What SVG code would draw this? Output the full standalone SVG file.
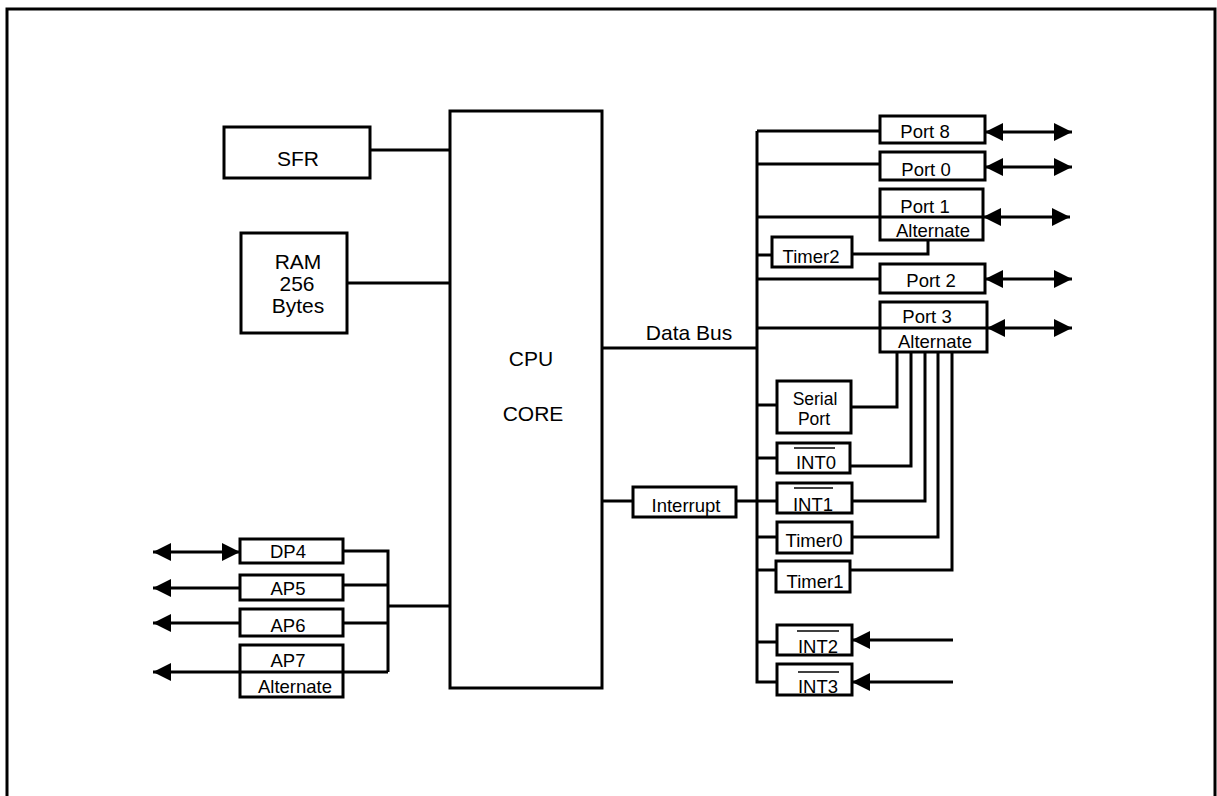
<svg xmlns="http://www.w3.org/2000/svg" width="1217" height="796" viewBox="0 0 1217 796">
<style>
.box{fill:#fff;stroke:#000;stroke-width:3}
.ln{fill:none;stroke:#000;stroke-width:3}
.ov{stroke:#000;stroke-width:1.5}
text{font-family:"Liberation Sans",Arial,Helvetica,sans-serif;fill:#000;text-anchor:middle}
.b{font-size:21px}
.s{font-size:18.5px}
.t{font-size:17.5px}
</style>
<defs>
<marker id="ah" markerUnits="userSpaceOnUse" markerWidth="18" markerHeight="18" refX="18" refY="9" orient="auto-start-reverse" viewBox="0 0 18 18">
<path d="M0,0 L18,9 L0,18 Z" fill="#000"/>
</marker>
</defs>
<rect width="1217" height="796" fill="#fff"/>
<path d="M7,796 V9 H1215 V796" fill="none" stroke="#000" stroke-width="3"/>

<g id="connectors">
<path class="ln" d="M370,150 H450"/>
<path class="ln" d="M347,283 H450"/>
<path class="ln" d="M602,348 H757"/>
<path class="ln" d="M757,131 V682 H777"/>
<path class="ln" d="M757,131 H880"/>
<path class="ln" d="M757,164 H880"/>
<path class="ln" d="M757,217 H983"/>
<path class="ln" d="M757,255 H772"/>
<path class="ln" d="M757,279 H880"/>
<path class="ln" d="M757,328 H987"/>
<path class="ln" d="M757,405 H777"/>
<path class="ln" d="M757,458 H777"/>
<path class="ln" d="M757,537 H777"/>
<path class="ln" d="M757,570 H776"/>
<path class="ln" d="M757,642 H777"/>
<path class="ln" d="M602,501 H633"/>
<path class="ln" d="M736,501 H777"/>
<path class="ln" d="M852,254 H928 V240"/>
<path class="ln" d="M851,407 H897 V352"/>
<path class="ln" d="M850,466 H911 V352"/>
<path class="ln" d="M852,501 H925 V352"/>
<path class="ln" d="M852,537 H938 V352"/>
<path class="ln" d="M850,570 H952 V352" stroke-width="2"/>
<line class="ln" x1="985" y1="132" x2="1072" y2="132" marker-start="url(#ah)" marker-end="url(#ah)"/>
<line class="ln" x1="985" y1="167" x2="1072" y2="167" marker-start="url(#ah)" marker-end="url(#ah)"/>
<line class="ln" x1="983" y1="217" x2="1070" y2="217" marker-start="url(#ah)" marker-end="url(#ah)"/>
<line class="ln" x1="985" y1="279" x2="1072" y2="279" marker-start="url(#ah)" marker-end="url(#ah)"/>
<line class="ln" x1="987" y1="328" x2="1072" y2="328" marker-start="url(#ah)" marker-end="url(#ah)"/>
<line class="ln" x1="953" y1="640" x2="852" y2="640" marker-end="url(#ah)"/>
<line class="ln" x1="953" y1="682" x2="852" y2="682" marker-end="url(#ah)"/>
<path class="ln" d="M343,551 H388 V672"/>
<path class="ln" d="M343,585 H388"/>
<path class="ln" d="M343,623 H388"/>
<path class="ln" d="M388,606 H450"/>
<line class="ln" x1="153" y1="552" x2="240" y2="552" marker-start="url(#ah)" marker-end="url(#ah)"/>
<line class="ln" x1="240" y1="588" x2="153" y2="588" marker-end="url(#ah)"/>
<line class="ln" x1="240" y1="623" x2="153" y2="623" marker-end="url(#ah)"/>
<line class="ln" x1="388" y1="672" x2="153" y2="672" marker-end="url(#ah)"/>
</g>

<g id="cpu"><rect class="box" x="450" y="111" width="152" height="577"/>
<text class="b" x="531" y="366">CPU</text><text class="b" x="533" y="421">CORE</text></g>
<g id="sfr"><rect class="box" x="224" y="127" width="146" height="51"/><text class="b" x="298" y="166">SFR</text></g>
<g id="ram"><rect class="box" x="241" y="233" width="106" height="100"/>
<text class="b" x="298" y="269">RAM</text><text class="b" x="297" y="291">256</text><text class="b" x="298" y="313">Bytes</text></g>
<g id="databus-label"><text class="b" x="689" y="340">Data Bus</text></g>
<g id="interrupt"><rect class="box" x="633" y="487" width="103" height="30"/><text class="s" x="686" y="512">Interrupt</text></g>

<g id="port8"><rect class="box" x="880" y="116" width="105" height="27"/><text class="s" x="925" y="138">Port 8</text></g>
<g id="port0"><rect class="box" x="880" y="152" width="105" height="28"/><text class="s" x="926" y="176">Port 0</text></g>
<g id="port1"><rect x="880" y="189" width="103" height="51" fill="none" stroke="#000" stroke-width="3"/>
<text class="s" x="925" y="213">Port 1</text><text class="s" x="933" y="237">Alternate</text></g>
<g id="timer2"><rect class="box" x="772" y="237" width="80" height="30"/><text class="s" x="811" y="263">Timer2</text></g>
<g id="port2"><rect class="box" x="880" y="264" width="105" height="29"/><text class="s" x="931" y="287">Port 2</text></g>
<g id="port3"><rect x="880" y="302" width="107" height="50" fill="none" stroke="#000" stroke-width="3"/>
<text class="s" x="927" y="323">Port 3</text><text class="s" x="935" y="348">Alternate</text></g>
<g id="serial"><rect class="box" x="777" y="381" width="74" height="52"/>
<text class="t" x="815" y="405">Serial</text><text class="t" x="814" y="425">Port</text></g>
<g id="int0"><rect class="box" x="777" y="443" width="73" height="30"/><text class="s" x="816" y="469">INT0</text><line class="ov" x1="794" y1="448" x2="835" y2="448"/></g>
<g id="int1"><rect class="box" x="777" y="483" width="75" height="30"/><text class="s" x="813" y="511">INT1</text><line class="ov" x1="794" y1="488" x2="833" y2="488"/></g>
<g id="timer0"><rect class="box" x="777" y="522" width="75" height="31"/><text class="s" x="814" y="547">Timer0</text></g>
<g id="timer1"><rect class="box" x="776" y="561" width="74" height="31"/><text class="s" x="815" y="588">Timer1</text></g>
<g id="int2"><rect class="box" x="777" y="625" width="75" height="30"/><text class="s" x="818" y="653">INT2</text><line class="ov" x1="797" y1="631" x2="839" y2="631"/></g>
<g id="int3"><rect class="box" x="777" y="664" width="75" height="31"/><text class="s" x="818" y="693">INT3</text><line class="ov" x1="798" y1="672" x2="839" y2="672"/></g>

<g id="dp4"><rect class="box" x="240" y="539" width="103" height="24"/><text class="s" x="288" y="558">DP4</text></g>
<g id="ap5"><rect class="box" x="240" y="575" width="103" height="25"/><text class="s" x="288" y="595">AP5</text></g>
<g id="ap6"><rect class="box" x="240" y="609" width="103" height="27"/><text class="s" x="288" y="632">AP6</text></g>
<g id="ap7"><rect x="240" y="645" width="103" height="52" fill="none" stroke="#000" stroke-width="3"/>
<text class="s" x="288" y="667">AP7</text><text class="s" x="295" y="693">Alternate</text></g>
</svg>
